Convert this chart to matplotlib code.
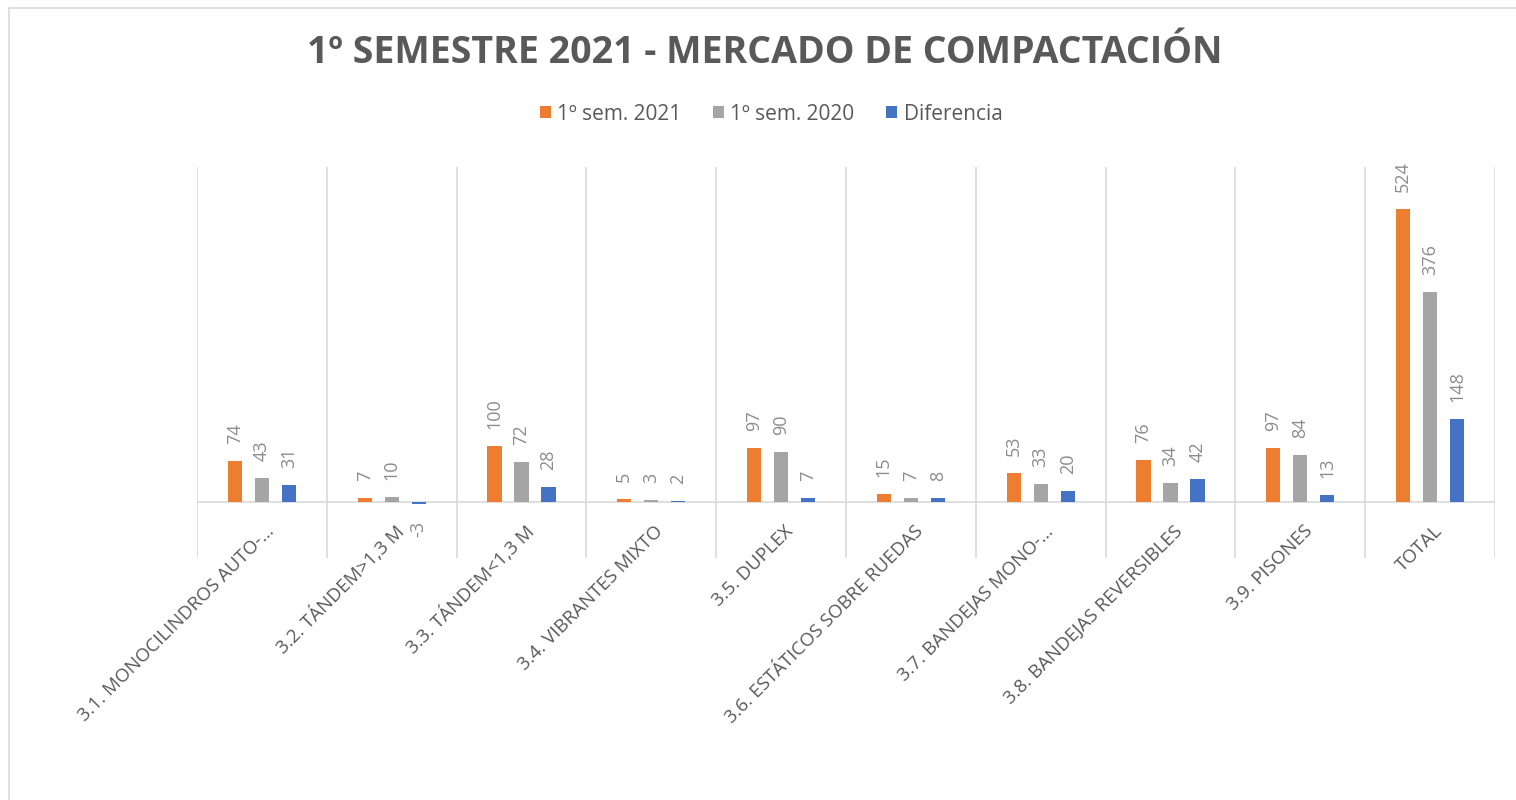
import matplotlib
matplotlib.use("Agg")
import matplotlib.pyplot as plt
from matplotlib.lines import Line2D
from matplotlib.patches import Patch
import numpy as np

plt.rcParams['font.family'] = ['Open Sans', 'DejaVu Sans']

categories = [
    "3.1. MONOCILINDROS AUTO-…",
    "3.2. TÁNDEM>1,3 M",
    "3.3. TÁNDEM<1,3 M",
    "3.4. VIBRANTES MIXTO",
    "3.5. DUPLEX",
    "3.6. ESTÁTICOS SOBRE RUEDAS",
    "3.7. BANDEJAS MONO-…",
    "3.8. BANDEJAS REVERSIBLES",
    "3.9. PISONES",
    "TOTAL",
]
sem_2021 = [74, 7, 100, 5, 97, 15, 53, 76, 97, 524]
sem_2020 = [43, 10, 72, 3, 90, 7, 33, 34, 84, 376]
diferencia = [31, -3, 28, 2, 7, 8, 20, 42, 13, 148]
series_names = ["1º sem. 2021", "1º sem. 2020", "Diferencia"]
colors = ["#ED7D31", "#A5A5A5", "#4472C4"]
title = "1º SEMESTRE 2021 - MERCADO DE COMPACTACIÓN"

W, H = 1516, 800
fig = plt.figure(figsize=(W / 100, H / 100), dpi=100)
fig.patch.set_facecolor("white")

# outer chart border (left and top visible)
fig.add_artist(Line2D([8.5 / W, 8.5 / W], [0, 1 - 7.5 / H], transform=fig.transFigure,
                      color="#D9D9D9", lw=1.2))
fig.add_artist(Line2D([8.5 / W, 1], [1 - 7.5 / H, 1 - 7.5 / H], transform=fig.transFigure,
                      color="#D9D9D9", lw=1.2))

ax = fig.add_axes([197 / W, (H - 558) / H, (1495 - 197) / W, (558 - 167) / H])
ax.set_xlim(-0.5, len(categories) - 0.5)
ax.set_ylim(-100, 600)
for s in ax.spines.values():
    s.set_visible(False)
ax.set_xticks([])
ax.set_yticks([])

grid_c = "#D9D9D9"
for b in np.arange(-0.5, len(categories), 1.0):
    ax.axvline(b, color=grid_c, lw=1.2, zorder=1)
ax.axhline(0, color=grid_c, lw=1.2, zorder=1)

x = np.arange(len(categories))
width = 0.108
offsets = [-0.208, 0.0, 0.208]
label_color = "#8C8C8C"
for vals, off, col in zip([sem_2021, sem_2020, diferencia], offsets, colors):
    ax.bar(x + off, vals, width=width, color=col, zorder=2, linewidth=0)
    for xi, v in zip(x + off, vals):
        dy = 17 if v >= 0 else -17
        ax.annotate(str(v), xy=(xi, v), xytext=(0, dy), textcoords="offset pixels",
                    rotation=90, ha="center", va="bottom" if v >= 0 else "top",
                    fontsize=13, color=label_color)

for xi, cat in zip(x, categories):
    ax.annotate(cat, xy=(xi, 0), xytext=(3, -20), textcoords="offset pixels",
                rotation=45, rotation_mode="anchor", ha="right", va="top",
                fontsize=13.5, color="#595959", annotation_clip=False)

fig.text(765 / W, 1 - 53 / H, title, ha="center", va="center", fontsize=27,
         fontweight="bold", color="#595959")

handles = [Patch(facecolor=c, edgecolor="none") for c in colors]
fig.legend(handles, series_names, loc="center", bbox_to_anchor=(771 / W, 1 - 114 / H),
           ncol=3, frameon=False, fontsize=15, labelcolor="#595959",
           handlelength=0.55, handleheight=0.55, handletextpad=0.3, columnspacing=1.5)

fig.savefig("out.png", dpi=100)
